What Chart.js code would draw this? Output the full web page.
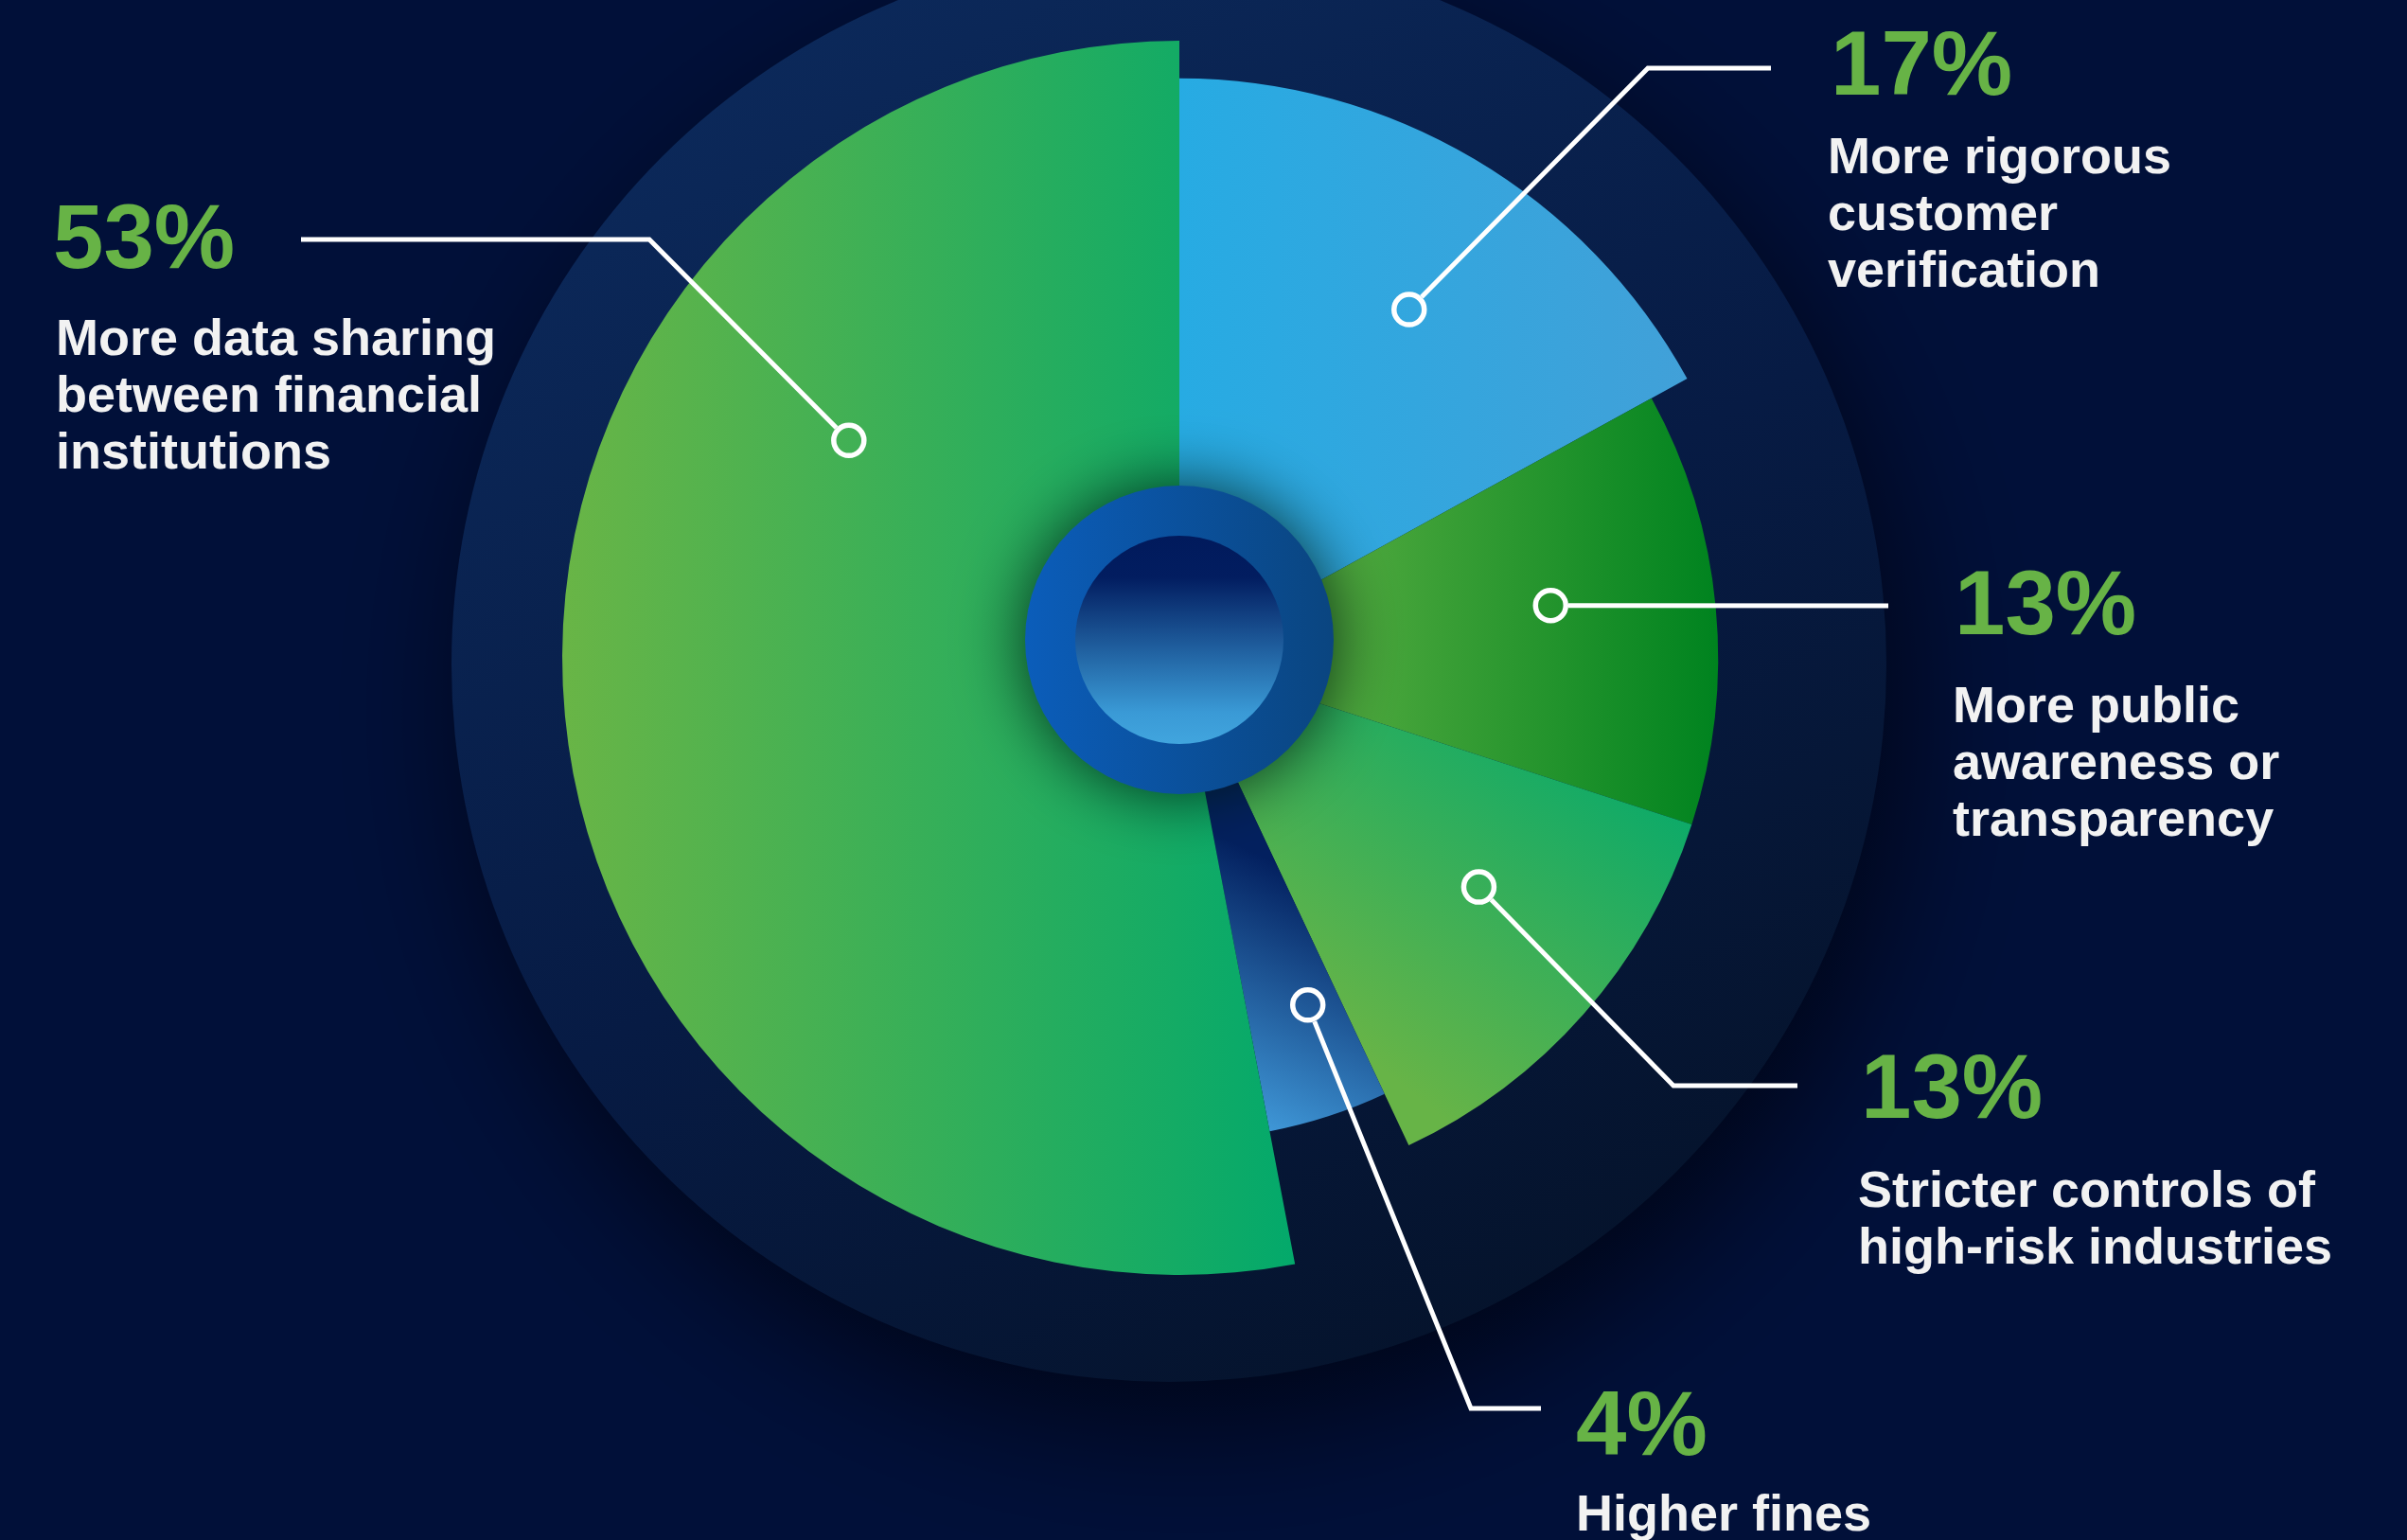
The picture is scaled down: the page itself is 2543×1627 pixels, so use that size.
<!DOCTYPE html>
<html>
<head>
<meta charset="utf-8">
<title>What would help most</title>
<script src="https://cdn.jsdelivr.net/npm/chart.js@4.4.1/dist/chart.umd.min.js"></script>
<style>
  html, body { margin: 0; padding: 0; background: #011039; }
  #wrap { width: 2543px; height: 1627px; position: relative; overflow: hidden; }
  canvas { display: block; }
</style>
</head>
<body>
<div id="wrap"><canvas id="chart" width="2543" height="1627"></canvas></div>
<script>
// Answers, clockwise from 12 o'clock
const categories = [
  'More rigorous customer verification',
  'More public awareness or transparency',
  'Stricter controls of high-risk industries',
  'Higher fines',
  'More data sharing between financial institutions'
];
const shares = [17, 13, 13, 4, 53];
const captionLines = [
  ['More rigorous', 'customer', 'verification'],
  ['More public', 'awareness or', 'transparency'],
  ['Stricter controls of', 'high-risk industries'],
  ['Higher fines'],
  ['More data sharing', 'between financial', 'institutions']
];

// ---- styling ----
const BG = '#011039';
const GREEN_TEXT = '#67b346';
const WHITE_TEXT = '#f2f2f2';
const FONT = '"Liberation Sans", Arial, Helvetica, sans-serif';

// outer radius of each slice relative to the pie radius
const sliceReach = [0.939, 0.873, 0.873, 0.781, 1.0];

// linear gradient per slice, endpoints in pie-radius units from the pie centre
const sliceFills = [
  { from: [0.00, 0.00], to: [0.85, 0.00], stops: ['#27abe3', '#42a0d8'] },
  { from: [0.27, 0.00], to: [0.87, 0.00], stops: ['#4ea83d', '#00831f'] },
  { from: [0.85, 0.20], to: [0.42, 0.74], stops: ['#04a96c', '#67b447'] },
  { from: [0.30, 0.40], to: [0.13, 0.76], stops: ['#03205f', '#3f97d7'] },
  { from: [-1.00, 0.00], to: [0.19, 0.00], stops: ['#69b546', '#03a96b'] }
];

// leader lines and text blocks: anchor = [fraction along slice angle, fraction of slice radius]
const callouts = [
  { anchor: [0.546, 0.72], path: [[1741, 72], [1871, 72]],
    value: [1934, 100], caption: [1931, 183] },
  { anchor: [0.444, 0.696], path: [[1995, 640]],
    value: [2065, 670], caption: [2063, 763] },
  { anchor: [0.415, 0.70], path: [[1768, 1147], [1899, 1147]],
    value: [1966, 1181], caption: [1963, 1275] },
  { anchor: [0.34, 0.768], path: [[1554, 1488], [1628, 1488]],
    value: [1665, 1537], caption: [1665, 1617] },
  { anchor: [0.703, 0.641], path: [[686, 253], [318, 253]],
    value: [56, 283], caption: [59, 375] }
];
const CAPTION_STEP = 60;
const MARKER_R = 16;

function pieFrame(chart) {
  const a = chart.chartArea;
  return {
    cx: (a.left + a.right) / 2,
    cy: (a.top + a.bottom) / 2,
    R: Math.min(a.right - a.left, a.bottom - a.top) / 2
  };
}

// dark page and the large disc behind the pie
const backdrop = {
  id: 'backdrop',
  beforeDraw(chart) {
    const { ctx } = chart;
    const { cx, cy } = pieFrame(chart);
    ctx.save();
    ctx.fillStyle = BG;
    ctx.fillRect(0, 0, chart.width, chart.height);
    const dx = cx - 11, dy = cy + 7, r = 758;
    ctx.shadowColor = 'rgba(0, 4, 20, 0.9)';
    ctx.shadowBlur = 140;
    ctx.shadowOffsetX = 20;
    ctx.shadowOffsetY = 50;
    const g = ctx.createLinearGradient(dx - 520, dy - 700, dx + 300, dy + 760);
    g.addColorStop(0, '#0c2a5c');
    g.addColorStop(0.55, '#071b44');
    g.addColorStop(1, '#05132b');
    ctx.fillStyle = g;
    ctx.beginPath();
    ctx.arc(dx, dy, r, 0, Math.PI * 2);
    ctx.fill();
    ctx.restore();
  }
};

// each slice gets its own reach
const reach = {
  id: 'reach',
  afterDatasetUpdate(chart, args) {
    args.meta.data.forEach((arc, i) => {
      arc.outerRadius = arc.outerRadius * sliceReach[i];
    });
  }
};

// blue hub in the middle
const hub = {
  id: 'hub',
  afterDatasetsDraw(chart) {
    const { ctx } = chart;
    const { cx, cy: pcy } = pieFrame(chart);
    const cy = pcy - 19;
    ctx.save();
    ctx.shadowColor = 'rgba(0, 24, 14, 0.85)';
    ctx.shadowBlur = 70;
    const g1 = ctx.createLinearGradient(cx - 163, 0, cx + 163, 0);
    g1.addColorStop(0, '#0b5dba');
    g1.addColorStop(1, '#0a4580');
    ctx.fillStyle = g1;
    ctx.beginPath();
    ctx.arc(cx, cy, 163, 0, Math.PI * 2);
    ctx.fill();
    ctx.shadowColor = 'transparent';
    ctx.shadowBlur = 0;
    const g2 = ctx.createLinearGradient(0, cy - 110, 0, cy + 110);
    g2.addColorStop(0, '#011a5c');
    g2.addColorStop(0.2, '#021d60');
    g2.addColorStop(0.5, '#1c5797');
    g2.addColorStop(0.85, '#3a9ad6');
    g2.addColorStop(1, '#41a5de');
    ctx.fillStyle = g2;
    ctx.beginPath();
    ctx.arc(cx, cy, 110, 0, Math.PI * 2);
    ctx.fill();
    ctx.restore();
  }
};

// leader lines, markers and text
const labels = {
  id: 'labels',
  afterDraw(chart) {
    const { ctx } = chart;
    const arcs = chart.getDatasetMeta(0).data;
    ctx.save();
    arcs.forEach((arc, i) => {
      const c = callouts[i];
      const ang = arc.startAngle + c.anchor[0] * (arc.endAngle - arc.startAngle);
      const rr = c.anchor[1] * arc.outerRadius;
      const ax = arc.x + rr * Math.cos(ang);
      const ay = arc.y + rr * Math.sin(ang);
      // marker
      ctx.strokeStyle = '#ffffff';
      ctx.lineWidth = 5.5;
      ctx.beginPath();
      ctx.arc(ax, ay, MARKER_R, 0, Math.PI * 2);
      ctx.stroke();
      // leader
      const [nx, ny] = c.path[0];
      const len = Math.hypot(nx - ax, ny - ay);
      const sx = ax + (nx - ax) / len * (MARKER_R + 2.7);
      const sy = ay + (ny - ay) / len * (MARKER_R + 2.7);
      ctx.lineWidth = 5;
      ctx.lineJoin = 'miter';
      ctx.lineCap = 'butt';
      ctx.beginPath();
      ctx.moveTo(sx, sy);
      c.path.forEach(([px, py]) => ctx.lineTo(px, py));
      ctx.stroke();
      // value
      ctx.textBaseline = 'alphabetic';
      ctx.textAlign = 'left';
      ctx.fillStyle = GREEN_TEXT;
      ctx.font = 'bold 96px ' + FONT;
      ctx.fillText(shares[i] + '%', c.value[0], c.value[1]);
      // caption
      ctx.fillStyle = WHITE_TEXT;
      ctx.font = 'bold 54px ' + FONT;
      captionLines[i].forEach((line, k) => {
        ctx.fillText(line, c.caption[0], c.caption[1] + k * CAPTION_STEP);
      });
    });
    ctx.restore();
  }
};

new Chart(document.getElementById('chart'), {
  type: 'pie',
  data: {
    labels: categories,
    datasets: [{
      data: shares,
      borderWidth: 0,
      hoverOffset: 0,
      offset: 0,
      backgroundColor(c) {
        const idx = c.type === 'data' ? c.dataIndex : 0;
        const f = sliceFills[idx];
        if (!c.chart.chartArea || c.type !== 'data') return f.stops[0];
        const { cx, cy, R } = pieFrame(c.chart);
        const g = c.chart.ctx.createLinearGradient(
          cx + f.from[0] * R, cy + f.from[1] * R,
          cx + f.to[0] * R, cy + f.to[1] * R);
        g.addColorStop(0, f.stops[0]);
        g.addColorStop(1, f.stops[1]);
        return g;
      }
    }]
  },
  options: {
    responsive: false,
    devicePixelRatio: 1,
    animation: false,
    events: [],
    layout: { padding: { left: 594, right: 645, top: 43, bottom: 280 } },
    plugins: {
      legend: { display: false },
      tooltip: { enabled: false }
    }
  },
  plugins: [backdrop, reach, hub, labels]
});
</script>
</body>
</html>
